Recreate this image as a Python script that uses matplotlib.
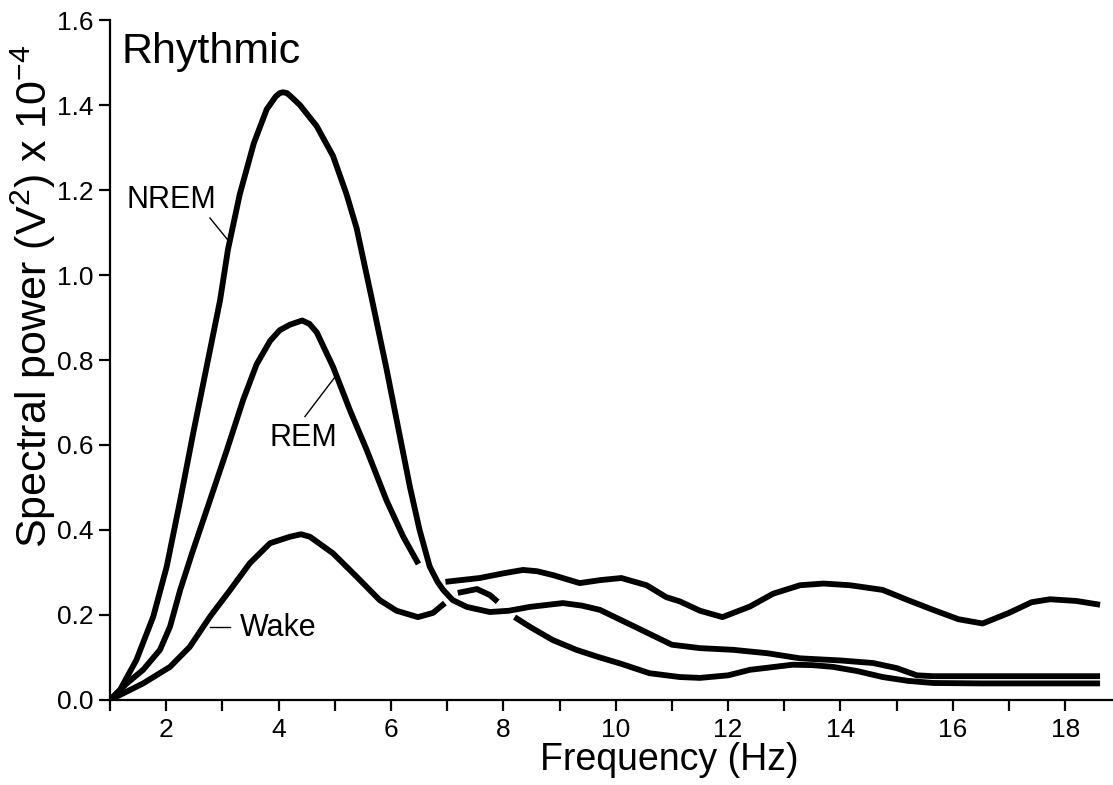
import numpy as np
import matplotlib
matplotlib.use('Agg')
import matplotlib.pyplot as plt

nan = np.nan

# NREM (one continuous trace)
nrem_hz = [1.0, 1.18, 1.47, 1.77, 2.01, 2.25, 2.48, 2.72, 2.96, 3.1, 3.31, 3.56, 3.79, 3.95, 4.02,
           4.08, 4.15, 4.22, 4.38, 4.68, 4.97, 5.21, 5.39, 5.65, 5.92, 6.16, 6.34, 6.51, 6.69, 6.83, 6.93,
           7.1, 7.35, 7.76, 8.1, 8.47, 9.06, 9.4, 9.72, 10.3, 11.0, 11.5, 12.09, 12.7, 13.28,
           14.0, 14.58, 15.0, 15.36, 15.65, 16.5, 18.62]
nrem_pow = [0.0, 0.024, 0.094, 0.196, 0.314, 0.47, 0.627, 0.784, 0.941, 1.06, 1.19, 1.31, 1.39, 1.42, 1.428,
            1.43, 1.428, 1.42, 1.40, 1.35, 1.28, 1.19, 1.11, 0.95, 0.78, 0.62, 0.50, 0.40, 0.314, 0.278, 0.259,
            0.235, 0.219, 0.207, 0.21, 0.219, 0.228, 0.222, 0.212, 0.175, 0.13, 0.122, 0.118, 0.11, 0.098,
            0.093, 0.087, 0.075, 0.058, 0.056, 0.056, 0.056]

# REM (broken where it passes under NREM)
rem_hz = [1.0, 1.30, 1.59, 1.89, 2.07, 2.25, 2.48, 2.78, 3.08, 3.37, 3.61, 3.85, 4.02, 4.20,
          4.42, 4.55, 4.68, 4.97, 5.27, 5.57, 5.92, 6.22, 6.49, nan,
          6.97, 7.58, 8.0, 8.35, 8.6, 8.88, 9.36, 9.72, 10.1, 10.55, 10.9, 11.14, 11.5, 11.9,
          12.39, 12.8, 13.28, 13.7, 14.17, 14.75, 15.2, 15.65, 16.1, 16.53, 17.0, 17.4, 17.73,
          18.2, 18.62]
rem_pow = [0.0, 0.039, 0.071, 0.118, 0.173, 0.259, 0.353, 0.47, 0.588, 0.706, 0.79, 0.845, 0.87, 0.883,
           0.893, 0.885, 0.865, 0.784, 0.682, 0.588, 0.47, 0.384, 0.32, nan,
           0.278, 0.287, 0.298, 0.306, 0.303, 0.294, 0.275, 0.282, 0.287, 0.27, 0.242, 0.232, 0.21, 0.195,
           0.22, 0.25, 0.27, 0.274, 0.27, 0.259, 0.235, 0.212, 0.19, 0.18, 0.205, 0.23, 0.237,
           0.233, 0.224]

# Wake (three pieces)
wake_hz = [1.0, 1.59, 2.07, 2.42, 2.78, 3.14, 3.49, 3.85, 4.2, 4.4, 4.56, 4.97, 5.39, 5.8,
           6.1, 6.48, 6.75, 6.96, nan,
           7.19, 7.53, 7.76, 7.9, nan,
           8.2, 8.5, 8.88, 9.3, 9.67, 10.1, 10.6, 11.14, 11.5, 12.0, 12.39, 13.15, 13.5, 13.86,
           14.3, 14.75, 15.2, 15.65, 16.5, 18.62]
wake_pow = [0.0, 0.039, 0.078, 0.125, 0.196, 0.259, 0.322, 0.369, 0.384, 0.39, 0.384, 0.345, 0.29, 0.235,
            0.21, 0.195, 0.205, 0.228, nan,
            0.252, 0.261, 0.247, 0.231, nan,
            0.195, 0.17, 0.141, 0.118, 0.102, 0.085, 0.063, 0.054, 0.052, 0.058, 0.071, 0.083, 0.082, 0.078,
            0.068, 0.054, 0.045, 0.04, 0.039, 0.039]

plain = ['Liberation Sans', 'DejaVu Sans']
plt.rcParams['font.family'] = plain
plt.rcParams['mathtext.fontset'] = 'custom'
plt.rcParams['mathtext.rm'] = 'Liberation Sans'
plt.rcParams['mathtext.it'] = 'Liberation Sans'

fig = plt.figure(figsize=(11.13, 7.85), dpi=100)
ax = fig.add_axes([0.0988, 0.1083, 0.9012, 0.8662])

for hz, pw in [(nrem_hz, nrem_pow), (rem_hz, rem_pow), (wake_hz, wake_pow)]:
    ax.plot(hz, pw, color='black', lw=4.2, solid_capstyle='butt', solid_joinstyle='round')

ax.set_xlim(1, 18.85)
ax.set_ylim(0, 1.6)
ax.spines['top'].set_visible(False)
ax.spines['right'].set_visible(False)
for s in ['left', 'bottom']:
    ax.spines[s].set_linewidth(1.6)

ax.set_xticks(range(2, 19, 2))
ax.set_xticks(range(1, 19, 2), minor=True)
ax.set_yticks(np.arange(0, 1.61, 0.2))
ax.set_yticklabels(['%.1f' % v for v in np.arange(0, 1.61, 0.2)])
ax.tick_params(which='both', direction='out', length=8, width=1.6)
ax.tick_params(axis='x', labelsize=19, pad=5)
ax.tick_params(axis='y', labelsize=19, pad=4)

ax.set_xlabel('Frequency (Hz)', fontsize=27)
ax.xaxis.set_label_coords(0.558, -0.062)
ax.set_ylabel(r'Spectral power (V$^{2}$) x 10$^{-4}$', fontsize=31)
ax.yaxis.set_label_coords(-0.052, 0.594)

ax.text(1.21, 1.50, 'Rhythmic', fontsize=31, ha='left', va='baseline')

ax.text(2.10, 1.176, 'NREM', fontsize=22, ha='center', va='center')
ax.plot([2.78, 3.10], [1.134, 1.082], color='black', lw=1)
ax.text(4.45, 0.616, 'REM', fontsize=22, ha='center', va='center')
ax.plot([4.47, 5.01], [0.667, 0.761], color='black', lw=1)
ax.text(3.99, 0.169, 'Wake', fontsize=22, ha='center', va='center')
ax.plot([2.78, 3.14], [0.172, 0.172], color='black', lw=1)

fig.savefig('out.png', dpi=100)
